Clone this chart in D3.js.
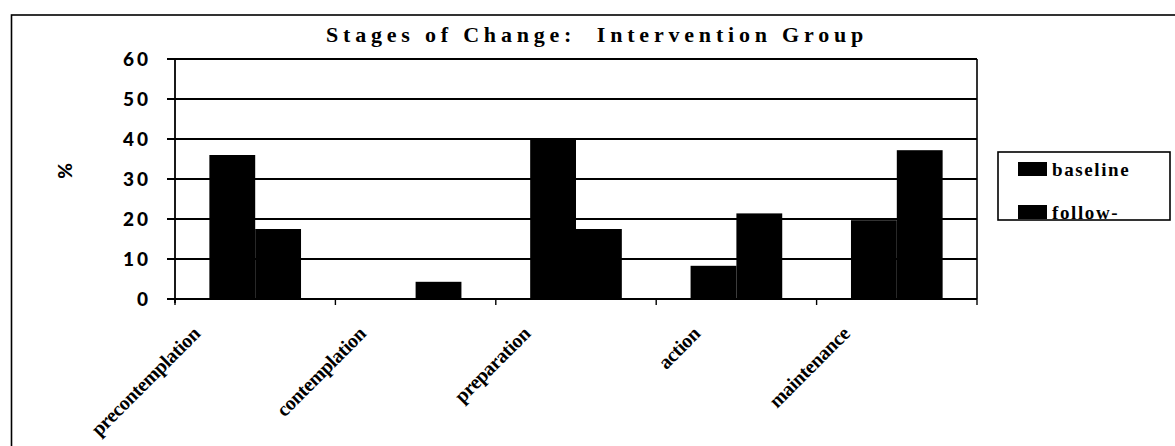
<!DOCTYPE html>
<html>
<head>
<meta charset="utf-8">
<script src="https://cdn.jsdelivr.net/npm/d3@7"></script>
<style>
  html, body { margin: 0; padding: 0; background: #fff; }
  svg { display: block; }
</style>
</head>
<body>
<div id="chart"></div>
<script>
const titleText = "Stages of Change:  Intervention Group"
const stages = ["precontemplation", "contemplation", "preparation", "action", "maintenance"]
const seriesNames = ["baseline", "follow-up"]
const baselineValues = [36, 0, 40, 8.3, 19.7]
const followValues = [17.5, 4.3, 17.5, 21.4, 37.2]
const yTicks = [0, 10, 20, 30, 40, 50, 60]
const yLabel = "%"

const width = 1175
const height = 446
const margin = {top: 59, right: 198, bottom: 147, left: 175}

const svg = d3.select("#chart").append("svg")
  .attr("width", width)
  .attr("height", height)

// outer chart frame (right and bottom edges fall off the picture)
svg.append("rect")
  .attr("x", 11.5)
  .attr("y", 15)
  .attr("width", 1200)
  .attr("height", 500)
  .attr("fill", "none")
  .attr("stroke", "#000")
  .attr("stroke-width", 1.6)

const scaleX = d3.scaleBand()
  .domain(stages)
  .range([margin.left, width - margin.right])
  .padding(0)

// excel style gap width 150%: two bars plus 1.5 bar of gap per band
const barW = scaleX.bandwidth() / 3.5
const scaleSeries = d3.scaleBand()
  .domain(seriesNames)
  .range([barW * 0.75, barW * 2.75])
  .padding(0)

const scaleY = d3.scaleLinear()
  .domain([0, 60])
  .range([height - margin.bottom, margin.top])

const plotTop = scaleY(60)
const plotBottom = scaleY(0)
const plotLeft = margin.left
const plotRight = width - margin.right

// grid lines
svg.append("g")
  .selectAll("line")
  .data(yTicks)
  .join("line")
    .attr("x1", plotLeft - 8)
    .attr("x2", plotRight)
    .attr("y1", d => scaleY(d))
    .attr("y2", d => scaleY(d))
    .attr("stroke", "#000")
    .attr("stroke-width", 1.8)

// y tick labels
svg.append("g")
  .selectAll("text")
  .data(yTicks)
  .join("text")
    .attr("x", plotLeft - 24)
    .attr("y", d => scaleY(d))
    .attr("dy", "0.36em")
    .attr("text-anchor", "end")
    .attr("font-family", "Lato, 'DejaVu Sans', sans-serif")
    .attr("font-weight", 900)
    .attr("font-size", 19)
    .attr("letter-spacing", 3)
    .text(d => d)

svg.append("text")
  .attr("transform", `translate(72, 171)rotate(-90)`)
  .attr("text-anchor", "middle")
  .attr("font-family", "Lato, 'DejaVu Sans', sans-serif")
  .attr("font-weight", 900)
  .attr("font-size", 19)
  .text(yLabel)

// bars
const rows = stages.map((s, i) => ({
  stage: s,
  values: [
    {series: seriesNames[0], value: baselineValues[i]},
    {series: seriesNames[1], value: followValues[i]}
  ]
}))

svg.append("g")
  .selectAll("g")
  .data(rows)
  .join("g")
    .attr("transform", d => `translate(${scaleX(d.stage)},0)`)
  .selectAll("rect")
  .data(d => d.values.filter(v => v.value > 0))
  .join("rect")
    .attr("x", d => scaleSeries(d.series))
    .attr("width", scaleSeries.bandwidth())
    .attr("y", d => scaleY(d.value))
    .attr("height", d => scaleY(0) - scaleY(d.value))
    .attr("fill", "#000")

// plot frame: left axis, right edge, bottom axis
svg.append("line")
  .attr("x1", plotLeft).attr("x2", plotLeft)
  .attr("y1", plotTop).attr("y2", plotBottom + 4)
  .attr("stroke", "#000").attr("stroke-width", 1.8)
svg.append("line")
  .attr("x1", plotRight).attr("x2", plotRight)
  .attr("y1", plotTop).attr("y2", plotBottom)
  .attr("stroke", "#000").attr("stroke-width", 1.6)
svg.append("line")
  .attr("x1", plotLeft).attr("x2", plotRight)
  .attr("y1", plotBottom).attr("y2", plotBottom)
  .attr("stroke", "#000").attr("stroke-width", 2.2)

// x ticks at category boundaries
const boundaries = stages.map(s => scaleX(s)).concat([scaleX.range()[1]])
svg.append("g")
  .selectAll("line")
  .data(boundaries)
  .join("line")
    .attr("x1", d => d).attr("x2", d => d)
    .attr("y1", plotBottom).attr("y2", plotBottom + 6)
    .attr("stroke", "#000").attr("stroke-width", 1.4)

// rotated category labels
const xLabels = svg.append("g")
  .selectAll("text")
  .data(stages)
  .join("text")
    .attr("text-anchor", "end")
    .attr("font-family", "'Liberation Serif', 'Times New Roman', serif")
    .attr("font-weight", 700)
    .attr("font-size", 20)
    .attr("letter-spacing", -0.4)
    .text(d => d)

xLabels.attr("transform", function(d) {
  const len = this.getComputedTextLength()
  const cx = scaleX(d) + scaleX.bandwidth() / 2
  return `translate(${cx - 25 - 0.2 * len}, 335)rotate(-45)`
})

// title
svg.append("text")
  .attr("x", 597)
  .attr("y", 42)
  .attr("text-anchor", "middle")
  .attr("font-family", "'Liberation Serif', 'Times New Roman', serif")
  .attr("font-weight", 700)
  .attr("font-size", 22)
  .attr("letter-spacing", 4.8)
  .attr("xml:space", "preserve")
  .style("white-space", "pre")
  .text(titleText)

// legend, clipped like the original: second entry is cut off
const legendBox = {x: 998, y: 152, w: 172, h: 68}
svg.append("clipPath")
  .attr("id", "legend-clip")
  .append("rect")
    .attr("x", legendBox.x)
    .attr("y", legendBox.y)
    .attr("width", legendBox.w)
    .attr("height", legendBox.h - 1)

const legend = svg.append("g")
legend.append("rect")
  .attr("x", legendBox.x)
  .attr("y", legendBox.y)
  .attr("width", legendBox.w)
  .attr("height", legendBox.h)
  .attr("fill", "#fff")
  .attr("stroke", "#000")
  .attr("stroke-width", 1.6)

const items = legend.append("g")
  .attr("clip-path", "url(#legend-clip)")
  .selectAll("g")
  .data(seriesNames)
  .join("g")
    .attr("transform", (d, i) => `translate(${legendBox.x + 20}, ${legendBox.y + 10 + i * 43})`)

items.append("rect")
  .attr("x", 0)
  .attr("y", 0)
  .attr("width", 29)
  .attr("height", 14)
  .attr("fill", "#000")

items.append("text")
  .attr("x", 34)
  .attr("y", 14)
  .attr("font-family", "'Liberation Serif', 'Times New Roman', serif")
  .attr("font-weight", 700)
  .attr("font-size", 19)
  .attr("letter-spacing", 1.6)
  .text(d => d.includes("-") ? d.slice(0, d.indexOf("-") + 1) : d)
</script>
</body>
</html>
